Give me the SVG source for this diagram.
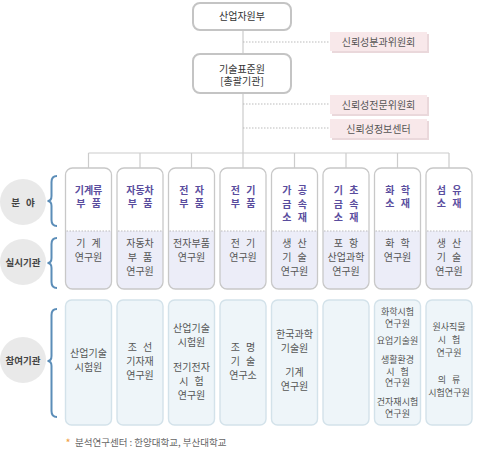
<svg xmlns="http://www.w3.org/2000/svg" xmlns:xlink="http://www.w3.org/1999/xlink" width="478" height="452" viewBox="0 0 478 452">
<defs>
<style>
text{font-family:"Noto Sans CJK KR","Noto Sans",sans-serif;font-size:10px;text-anchor:middle;word-spacing:4px}
.top{fill:#ffffff;stroke:#c4c4c4;stroke-width:2}
.toptx{fill:#333333}
.pink{fill:#f8e8ea}
.pinksh{fill:#ead8db}
.pinktx{fill:#555555}
.ln{stroke:#cccccc;stroke-width:1.2;fill:none}
.dot{stroke:#bbbbbb;stroke-width:1;stroke-dasharray:1.5 1.5;fill:none}
.cat{fill:none;stroke:#c8c8c8;stroke-width:1.3}
.low{fill:#ecedf8}
.cattx{fill:#5a4d9e;font-weight:bold}
.imptx{fill:#555555}
.part{fill:#eef5f9;stroke:#d3e2ea;stroke-width:1.4}
.parttx{fill:#555555}
.sm{font-size:9px}
.circ{fill:#e9e9e9}
.circtx{fill:#444444;font-weight:bold;font-size:9.5px}
.brace{fill:none;stroke:#5b8db8;stroke-width:2}
</style>
<rect id="catbg" x="0" y="168" width="46" height="121" rx="7" fill="#ffffff"/>
<path id="catlow" d="M0,231 H46 V282 Q46,289 39,289 H7 Q0,289 0,282 Z"/>
<rect id="catfr" x="0" y="168" width="46" height="121" rx="7"/>
<rect id="partbox" x="0" y="300" width="46" height="125" rx="6"/>
</defs>

<g id="connectors">
<line class="ln" x1="243" y1="30" x2="243" y2="168"/>
<line class="dot" x1="243" y1="42" x2="330" y2="42"/>
<line class="dot" x1="243" y1="104" x2="330" y2="104"/>
<line class="dot" x1="243" y1="128" x2="330" y2="128"/>
<line class="ln" x1="88.5" y1="153" x2="449" y2="153"/>
<line class="ln" x1="88.5" y1="153" x2="88.5" y2="168"/>
<line class="ln" x1="140" y1="153" x2="140" y2="168"/>
<line class="ln" x1="191.5" y1="153" x2="191.5" y2="168"/>
<line class="ln" x1="294.5" y1="153" x2="294.5" y2="168"/>
<line class="ln" x1="346" y1="153" x2="346" y2="168"/>
<line class="ln" x1="397.5" y1="153" x2="397.5" y2="168"/>
<line class="ln" x1="449" y1="153" x2="449" y2="168"/>
</g>

<g id="n-mke">
<rect class="top" x="193" y="3" width="98" height="27" rx="7"/>
<text class="toptx" x="242" y="20">산업자원부</text>
</g>
<g id="n-kats">
<rect class="top" x="193" y="54" width="98" height="39" rx="7"/>
<text class="toptx" x="242" y="73">기술표준원<tspan x="242" dy="12">[총괄기관]</tspan></text>
</g>

<g id="n-p1">
<rect class="pinksh" x="332" y="34" width="97" height="19"/>
<rect class="pink" x="330" y="32" width="97" height="19"/>
<text class="pinktx" x="378.5" y="45.5">신뢰성분과위원회</text>
</g>
<g id="n-p2">
<rect class="pinksh" x="332" y="97" width="97" height="19"/>
<rect class="pink" x="330" y="95" width="97" height="19"/>
<text class="pinktx" x="378.5" y="108.5">신뢰성전문위원회</text>
</g>
<g id="n-p3">
<rect class="pinksh" x="332" y="121" width="97" height="19"/>
<rect class="pink" x="330" y="119" width="97" height="19"/>
<text class="pinktx" x="378.5" y="132.5">신뢰성정보센터</text>
</g>

<g id="n-lbl1">
<circle class="circ" cx="23" cy="202" r="23"/>
<text class="circtx" x="23" y="205.5">분 야</text>
<path class="brace" d="M57,176 Q51.5,176 51.5,182 V196 Q51.5,201 47.5,201 Q51.5,201 51.5,206 V220 Q51.5,226 57,226"/>
</g>
<g id="n-lbl2">
<circle class="circ" cx="23" cy="262" r="23"/>
<text class="circtx" x="23" y="265.5">실시기관</text>
<path class="brace" d="M57,238 Q51.5,238 51.5,244 V258 Q51.5,263 47.5,263 Q51.5,263 51.5,268 V282 Q51.5,288 57,288"/>
</g>
<g id="n-lbl3">
<circle class="circ" cx="23" cy="360" r="23"/>
<text class="circtx" x="23" y="363.5">참여기관</text>
<path class="brace" d="M57,309 Q51.5,309 51.5,315 V356 Q51.5,361 47.5,361 Q51.5,361 51.5,366 V411 Q51.5,417 57,417"/>
</g>

<g id="n-c1" transform="translate(65.5,0)">
<use xlink:href="#catbg"/><use xlink:href="#catlow" class="low"/>
<line class="dot" x1="1" y1="231" x2="45" y2="231"/><use xlink:href="#catfr" class="cat"/>
<text class="cattx" x="23" y="194">기계류<tspan x="23" dy="13">부 품</tspan></text>
<text class="imptx" x="23" y="247">기 계<tspan x="23" dy="14">연구원</tspan></text>
</g>
<g id="n-c2" transform="translate(117,0)">
<use xlink:href="#catbg"/><use xlink:href="#catlow" class="low"/>
<line class="dot" x1="1" y1="231" x2="45" y2="231"/><use xlink:href="#catfr" class="cat"/>
<text class="cattx" x="23" y="194">자동차<tspan x="23" dy="13">부 품</tspan></text>
<text class="imptx" x="23" y="247">자동차<tspan x="23" dy="14">부 품</tspan><tspan x="23" dy="14">연구원</tspan></text>
</g>
<g id="n-c3" transform="translate(168.5,0)">
<use xlink:href="#catbg"/><use xlink:href="#catlow" class="low"/>
<line class="dot" x1="1" y1="231" x2="45" y2="231"/><use xlink:href="#catfr" class="cat"/>
<text class="cattx" x="23" y="194">전 자<tspan x="23" dy="13">부 품</tspan></text>
<text class="imptx" x="23" y="247">전자부품<tspan x="23" dy="14">연구원</tspan></text>
</g>
<g id="n-c4" transform="translate(220,0)">
<use xlink:href="#catbg"/><use xlink:href="#catlow" class="low"/>
<line class="dot" x1="1" y1="231" x2="45" y2="231"/><use xlink:href="#catfr" class="cat"/>
<text class="cattx" x="23" y="194">전 기<tspan x="23" dy="13">부 품</tspan></text>
<text class="imptx" x="23" y="247">전 기<tspan x="23" dy="14">연구원</tspan></text>
</g>
<g id="n-c5" transform="translate(271.5,0)">
<use xlink:href="#catbg"/><use xlink:href="#catlow" class="low"/>
<line class="dot" x1="1" y1="231" x2="45" y2="231"/><use xlink:href="#catfr" class="cat"/>
<text class="cattx" x="23" y="194">가 공<tspan x="23" dy="13.5">금 속</tspan><tspan x="23" dy="13.5">소 재</tspan></text>
<text class="imptx" x="23" y="247">생 산<tspan x="23" dy="14">기 술</tspan><tspan x="23" dy="14">연구원</tspan></text>
</g>
<g id="n-c6" transform="translate(323,0)">
<use xlink:href="#catbg"/><use xlink:href="#catlow" class="low"/>
<line class="dot" x1="1" y1="231" x2="45" y2="231"/><use xlink:href="#catfr" class="cat"/>
<text class="cattx" x="23" y="194">기 초<tspan x="23" dy="13.5">금 속</tspan><tspan x="23" dy="13.5">소 재</tspan></text>
<text class="imptx" x="23" y="247">포 항<tspan x="23" dy="14">산업과학</tspan><tspan x="23" dy="14">연구원</tspan></text>
</g>
<g id="n-c7" transform="translate(374.5,0)">
<use xlink:href="#catbg"/><use xlink:href="#catlow" class="low"/>
<line class="dot" x1="1" y1="231" x2="45" y2="231"/><use xlink:href="#catfr" class="cat"/>
<text class="cattx" x="23" y="194">화 학<tspan x="23" dy="13">소 재</tspan></text>
<text class="imptx" x="23" y="247">화 학<tspan x="23" dy="14">연구원</tspan></text>
</g>
<g id="n-c8" transform="translate(426,0)">
<use xlink:href="#catbg"/><use xlink:href="#catlow" class="low"/>
<line class="dot" x1="1" y1="231" x2="45" y2="231"/><use xlink:href="#catfr" class="cat"/>
<text class="cattx" x="23" y="194">섬 유<tspan x="23" dy="13">소 재</tspan></text>
<text class="imptx" x="23" y="247">생 산<tspan x="23" dy="14">기 술</tspan><tspan x="23" dy="14">연구원</tspan></text>
</g>

<g id="n-b1" transform="translate(65.5,0)">
<use xlink:href="#partbox" class="part"/>
<text class="parttx" x="23" y="356.5">산업기술<tspan x="23" dy="14">시험원</tspan></text>
</g>
<g id="n-b2" transform="translate(117,0)">
<use xlink:href="#partbox" class="part"/>
<text class="parttx" x="23" y="350.5">조 선<tspan x="23" dy="14.5">기자재</tspan><tspan x="23" dy="14">연구원</tspan></text>
</g>
<g id="n-b3" transform="translate(168.5,0)">
<use xlink:href="#partbox" class="part"/>
<text class="parttx" x="23" y="331.5">산업기술<tspan x="23" dy="14">시험원</tspan><tspan x="23" dy="25">전기전자</tspan><tspan x="23" dy="14">시 험</tspan><tspan x="23" dy="14">연구원</tspan></text>
</g>
<g id="n-b4" transform="translate(220,0)">
<use xlink:href="#partbox" class="part"/>
<text class="parttx" x="23" y="350.5">조 명<tspan x="23" dy="14.5">기 술</tspan><tspan x="23" dy="13.5">연구소</tspan></text>
</g>
<g id="n-b5" transform="translate(271.5,0)">
<use xlink:href="#partbox" class="part"/>
<text class="parttx" x="23" y="337.5">한국과학<tspan x="23" dy="14">기술원</tspan><tspan x="23" dy="24">기계</tspan><tspan x="23" dy="14">연구원</tspan></text>
</g>
<g id="n-b6" transform="translate(323,0)">
<use xlink:href="#partbox" class="part"/>
</g>
<g id="n-b7" transform="translate(374.5,0)">
<use xlink:href="#partbox" class="part"/>
<text class="parttx sm" x="23" y="315.3">화학시험<tspan x="23" dy="12">연구원</tspan><tspan x="23" dy="17">요업기술원</tspan><tspan x="23" dy="19">생활환경</tspan><tspan x="23" dy="12">시 험</tspan><tspan x="23" dy="11">연구원</tspan><tspan x="23" dy="19">건자재시험</tspan><tspan x="23" dy="12">연구원</tspan></text>
</g>
<g id="n-b8" transform="translate(426,0)">
<use xlink:href="#partbox" class="part"/>
<text class="parttx sm" x="23" y="330.3">원사직물<tspan x="23" dy="13">시 험</tspan><tspan x="23" dy="13">연구원</tspan><tspan x="23" dy="27">의 류</tspan><tspan x="23" dy="13">시험연구원</tspan></text>
</g>

<g id="n-note">
<text x="68" y="447" style="fill:#f0a040;font-size:11px">*</text>
<text x="75" y="446" style="fill:#666666;text-anchor:start;word-spacing:0;font-size:9.5px">분석연구센터 : 한양대학교, 부산대학교</text>
</g>
</svg>
